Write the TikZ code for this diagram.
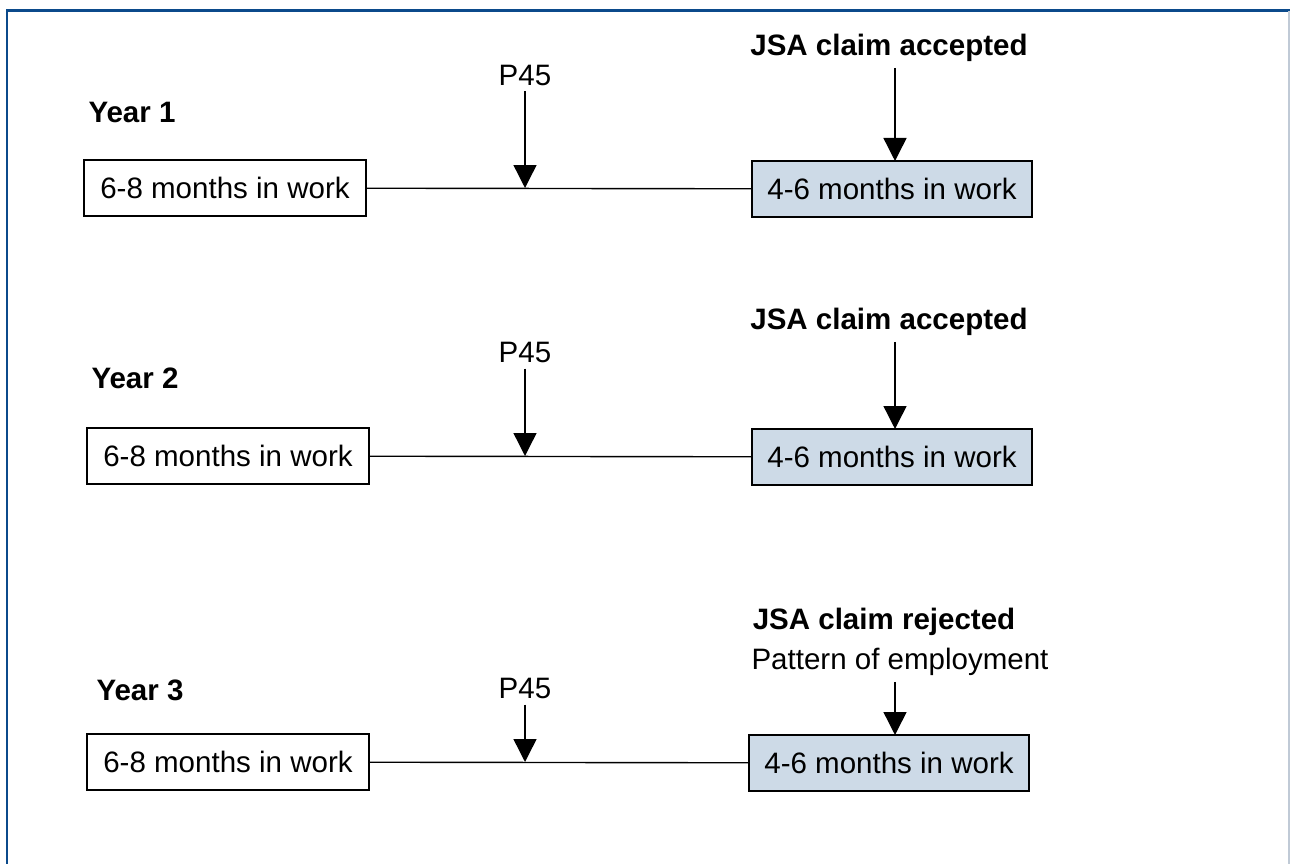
\documentclass[tikz,border=0pt]{standalone}
\usepackage{fontspec}
\setmainfont{Liberation Sans}
\usetikzlibrary{arrows.meta,positioning}
\definecolor{framebl}{RGB}{11,74,139}
\definecolor{frameg}{RGB}{192,202,214}
\definecolor{jobfill}{RGB}{205,218,231}

\begin{document}
\begin{tikzpicture}[x=0.02cm,y=-0.02cm,
  every node/.style={font=\fontsize{16.8}{20}\selectfont},
  yr/.style={font=\fontsize{16.8}{20}\selectfont\bfseries},
  work/.style={draw,line width=0.8pt,minimum width=5.64cm,minimum height=1.12cm,inner sep=0pt},
  claim/.style={work,fill=jobfill,minimum width=5.6cm},
  arr/.style={line width=0.8pt,-{Triangle[length=0.46cm,width=0.46cm]}}]
\useasboundingbox (0,0) rectangle (1290,864);
\draw[framebl,line width=1.7pt] (7,864) -- (7,11) -- (1290,11);
\draw[frameg,line width=0.6pt] (1289,11) -- (1289,864);

% year 1
\node [yr] (y1) at (132,112) {Year 1};
\node [work] (w1) at (225,188) {6-8 months in work};
\node [claim] (b1) at (892,189) {4-6 months in work};
\node (p1) at (525,75) {P45};
\node [yr] (j1) at (889,48) {JSA claim accepted};
\coordinate (h1) at (525,188);
\coordinate (t1) at (895,161);

% year 2
\node [yr] (y2) at (135,378) {Year 2};
\node [work] (w2) at (228,456) {6-8 months in work};
\node [claim] (b2) at (892,457) {4-6 months in work};
\node (p2) at (525,352) {P45};
\node [yr] (j2) at (889,322) {JSA claim accepted};
\coordinate (h2) at (525,456);
\coordinate (t2) at (895,429);

% year 3
\node [yr] (y3) at (140,690) {Year 3};
\node [work] (w3) at (228,762) {6-8 months in work};
\node [claim] (b3) at (889,763) {4-6 months in work};
\node (p3) at (525,688) {P45};
\node [yr] (j3) at (884,622) {JSA claim rejected};
\node [below = 0cm of j3.south, anchor=north, xshift=0.32cm] (e3) {Pattern of employment};
\coordinate (h3) at (525,762);
\coordinate (t3) at (895,735);

\draw[line width=0.8pt] (w1)--(b1);
\draw[line width=0.8pt] (w2)--(b2);
\draw[line width=0.8pt] (w3)--(b3);
\draw[arr] (p1.south)--(h1);
\draw[arr] (p2.south)--(h2);
\draw[arr] (p3.south)--(h3);
\draw[arr] (j1.south -| t1)--(t1);
\draw[arr] (j2.south -| t2)--(t2);
\draw[arr] (e3.south -| t3)--(t3);
\end{tikzpicture}
\end{document}
